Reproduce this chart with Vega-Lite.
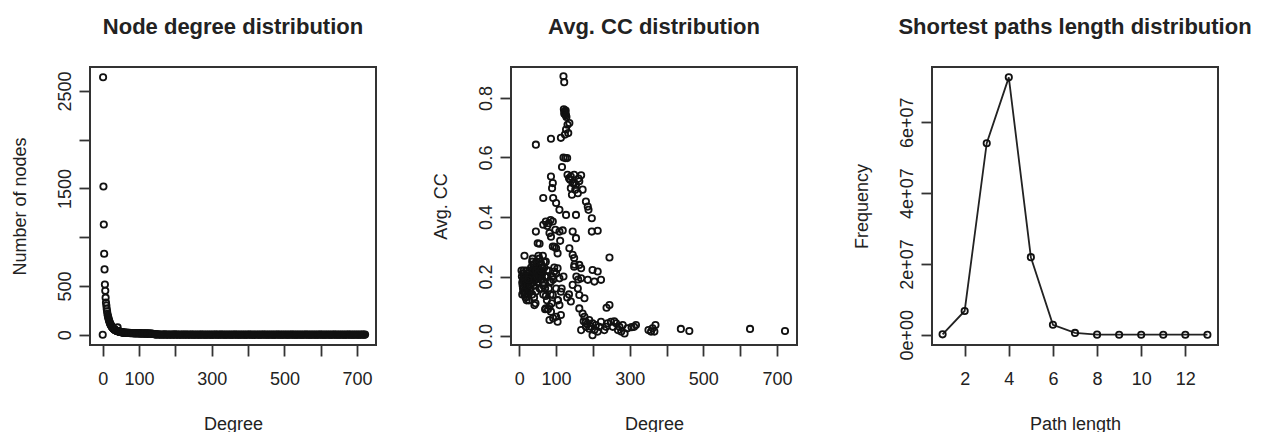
{
  "$schema": "https://vega.github.io/schema/vega-lite/v6.json",
  "background": "white",
  "padding": {"left": 10, "top": 15, "right": 5, "bottom": 5},
  "bounds": "flush",
  "spacing": 135,
  "config": {
    "view": {"stroke": "#333", "strokeWidth": 2},
    "font": "Liberation Sans",
    "axis": {"grid": false, "domain": false, "tickColor": "#333", "tickSize": 11, "tickWidth": 1.8, "labelFont": "Liberation Sans", "labelFontSize": 18, "labelColor": "#222", "titleFont": "Liberation Sans", "titleFontSize": 18, "titleFontWeight": "normal", "titleColor": "#222", "labelOverlap": false, "labelFlush": false},
    "axisLeft": {"labelAngle": 270, "labelAlign": "center", "labelBaseline": "bottom", "labelPadding": 5, "titlePadding": 27},
    "axisBottom": {"labelPadding": 14, "titlePadding": 27, "labelBaseline": "top"},
    "title": {"fontSize": 22, "font": "Liberation Sans", "fontWeight": "bold", "color": "#222", "anchor": "middle", "offset": 28, "baseline": "alphabetic", "frame": "group"}
  },
  "datasets": {
    "deg": [
      {"d":0,"n":0},{"d":1,"n":2640},{"d":2,"n":1520},{"d":3,"n":1130},{"d":4,"n":830},{"d":5,"n":670},{"d":6,"n":515},{"d":7,"n":450},{"d":8,"n":380},{"d":9,"n":330},
      {"d":10,"n":300},{"d":11,"n":265},{"d":12,"n":240},{"d":13,"n":215},{"d":14,"n":195},{"d":15,"n":180},{"d":16,"n":165},{"d":17,"n":150},{"d":18,"n":140},{"d":19,"n":128},
      {"d":20,"n":118},{"d":21,"n":110},{"d":22,"n":102},{"d":23,"n":95},{"d":24,"n":88},{"d":25,"n":82},{"d":26,"n":77},{"d":27,"n":72},{"d":28,"n":68},{"d":29,"n":64},
      {"d":30,"n":60},{"d":31,"n":56},{"d":32,"n":53},{"d":33,"n":50},{"d":34,"n":48},{"d":35,"n":46},{"d":36,"n":44},{"d":37,"n":42},{"d":38,"n":40},{"d":39,"n":38},
      {"d":40,"n":37},{"d":41,"n":75},{"d":42,"n":35},{"d":43,"n":34},{"d":44,"n":33},{"d":45,"n":32},{"d":46,"n":31},{"d":47,"n":30},{"d":48,"n":29},{"d":49,"n":28},
      {"d":50,"n":27},{"d":51,"n":26},{"d":52,"n":25},{"d":53,"n":25},{"d":54,"n":24},{"d":55,"n":23},{"d":56,"n":22},{"d":57,"n":22},{"d":58,"n":21},{"d":59,"n":20},{"d":60,"n":20},
      {"d":62,"n":22},{"d":64,"n":19},{"d":66,"n":21},{"d":68,"n":18},{"d":70,"n":20},{"d":72,"n":17},{"d":74,"n":19},{"d":76,"n":16},{"d":78,"n":18},{"d":80,"n":15},
      {"d":82,"n":17},{"d":84,"n":14},{"d":86,"n":18},{"d":88,"n":13},{"d":90,"n":16},{"d":92,"n":12},{"d":94,"n":17},{"d":96,"n":13},{"d":98,"n":15},{"d":100,"n":12},
      {"d":102,"n":16},{"d":104,"n":11},{"d":106,"n":14},{"d":108,"n":12},{"d":110,"n":15},{"d":112,"n":10},{"d":114,"n":14},{"d":116,"n":11},{"d":118,"n":13},{"d":120,"n":10},
      {"d":122,"n":14},{"d":124,"n":9},{"d":126,"n":13},{"d":128,"n":10},{"d":130,"n":12},{"d":132,"n":9},{"d":134,"n":11},{"d":136,"n":8},{"d":138,"n":10},{"d":140,"n":7},
      {"d":142,"n":5},{"d":144,"n":4},{"d":146,"n":3},{"d":148,"n":4},{"d":150,"n":2},
      {"d":153,"n":3},{"d":156,"n":1},{"d":159,"n":2},{"d":162,"n":0},{"d":165,"n":2},{"d":168,"n":1},{"d":171,"n":3},{"d":174,"n":0},{"d":177,"n":1},{"d":180,"n":2},
      {"d":183,"n":0},{"d":186,"n":1},{"d":189,"n":2},{"d":192,"n":0},{"d":195,"n":1},{"d":198,"n":3},{"d":201,"n":0},{"d":204,"n":1},{"d":207,"n":2},{"d":210,"n":0},
      {"d":213,"n":1},{"d":216,"n":0},{"d":219,"n":2},{"d":222,"n":1},{"d":225,"n":0},{"d":228,"n":1},{"d":231,"n":2},{"d":234,"n":0},{"d":237,"n":1},{"d":240,"n":0},
      {"d":243,"n":2},{"d":246,"n":1},{"d":249,"n":0},{"d":252,"n":1},{"d":255,"n":0},{"d":258,"n":2},{"d":261,"n":0},{"d":264,"n":1},{"d":267,"n":0},{"d":270,"n":1},
      {"d":273,"n":2},{"d":276,"n":0},{"d":279,"n":1},{"d":282,"n":0},{"d":285,"n":1},{"d":288,"n":0},{"d":291,"n":2},{"d":294,"n":0},{"d":297,"n":1},{"d":300,"n":0},
      {"d":303,"n":1},{"d":306,"n":0},{"d":309,"n":2},{"d":312,"n":1},{"d":315,"n":0},{"d":318,"n":1},{"d":321,"n":0},{"d":324,"n":1},{"d":327,"n":2},{"d":330,"n":0},
      {"d":333,"n":1},{"d":336,"n":0},{"d":339,"n":1},{"d":342,"n":0},{"d":345,"n":2},{"d":348,"n":0},{"d":351,"n":1},{"d":354,"n":0},{"d":357,"n":1},{"d":360,"n":0},
      {"d":363,"n":2},{"d":366,"n":1},{"d":369,"n":0},{"d":372,"n":1},{"d":375,"n":0},{"d":378,"n":1},{"d":381,"n":0},{"d":384,"n":2},{"d":387,"n":0},{"d":390,"n":1},
      {"d":393,"n":0},{"d":396,"n":1},{"d":399,"n":0},{"d":402,"n":2},{"d":405,"n":1},{"d":408,"n":0},{"d":411,"n":1},{"d":414,"n":0},{"d":417,"n":1},{"d":420,"n":0},
      {"d":423,"n":2},{"d":426,"n":0},{"d":429,"n":1},{"d":432,"n":0},{"d":435,"n":1},{"d":438,"n":0},{"d":441,"n":2},{"d":444,"n":1},{"d":447,"n":0},{"d":450,"n":1},
      {"d":453,"n":0},{"d":456,"n":1},{"d":459,"n":0},{"d":462,"n":2},{"d":465,"n":0},{"d":468,"n":1},{"d":471,"n":0},{"d":474,"n":1},{"d":477,"n":0},{"d":480,"n":2},
      {"d":483,"n":1},{"d":486,"n":0},{"d":489,"n":1},{"d":492,"n":0},{"d":495,"n":1},{"d":498,"n":0},{"d":501,"n":2},{"d":504,"n":0},{"d":507,"n":1},{"d":510,"n":0},
      {"d":513,"n":1},{"d":516,"n":0},{"d":519,"n":2},{"d":522,"n":1},{"d":525,"n":0},{"d":528,"n":1},{"d":531,"n":0},{"d":534,"n":1},{"d":537,"n":0},{"d":540,"n":2},
      {"d":543,"n":0},{"d":546,"n":1},{"d":549,"n":0},{"d":552,"n":1},{"d":555,"n":0},{"d":558,"n":2},{"d":561,"n":1},{"d":564,"n":0},{"d":567,"n":1},{"d":570,"n":0},
      {"d":573,"n":1},{"d":576,"n":0},{"d":579,"n":2},{"d":582,"n":0},{"d":585,"n":1},{"d":588,"n":0},{"d":591,"n":1},{"d":594,"n":0},{"d":597,"n":2},{"d":600,"n":1},
      {"d":603,"n":0},{"d":606,"n":1},{"d":609,"n":0},{"d":612,"n":1},{"d":615,"n":0},{"d":618,"n":2},{"d":621,"n":0},{"d":624,"n":1},{"d":627,"n":0},{"d":630,"n":1},
      {"d":633,"n":0},{"d":636,"n":2},{"d":639,"n":1},{"d":642,"n":0},{"d":645,"n":1},{"d":648,"n":0},{"d":651,"n":1},{"d":654,"n":0},{"d":657,"n":2},{"d":660,"n":0},
      {"d":663,"n":1},{"d":666,"n":0},{"d":669,"n":1},{"d":672,"n":0},{"d":675,"n":2},{"d":678,"n":1},{"d":681,"n":0},{"d":684,"n":1},{"d":687,"n":0},{"d":690,"n":1},
      {"d":693,"n":0},{"d":696,"n":2},{"d":699,"n":0},{"d":702,"n":1},{"d":705,"n":0},{"d":708,"n":1},{"d":711,"n":0},{"d":714,"n":2},{"d":717,"n":1},{"d":720,"n":0},{"d":722,"n":1}
    ],
    "cc": [
      {"d":120,"cc":0.873},{"d":122,"cc":0.853},{"d":121,"cc":0.762},{"d":123,"cc":0.755},{"d":125,"cc":0.75},{"d":124,"cc":0.745},{"d":126,"cc":0.758},{"d":127,"cc":0.742},{"d":128,"cc":0.736},{"d":122,"cc":0.748},
      {"d":131,"cc":0.71},{"d":136,"cc":0.716},{"d":127,"cc":0.694},{"d":124,"cc":0.677},{"d":113,"cc":0.666},{"d":133,"cc":0.682},{"d":45,"cc":0.643},{"d":86,"cc":0.663},{"d":120,"cc":0.6},{"d":125,"cc":0.598},
      {"d":130,"cc":0.598},{"d":116,"cc":0.568},{"d":131,"cc":0.542},{"d":140,"cc":0.536},{"d":149,"cc":0.542},{"d":168,"cc":0.54},{"d":161,"cc":0.529},{"d":145,"cc":0.514},{"d":154,"cc":0.508},{"d":140,"cc":0.497},
      {"d":152,"cc":0.492},{"d":172,"cc":0.492},{"d":143,"cc":0.475},{"d":159,"cc":0.48},{"d":149,"cc":0.514},{"d":163,"cc":0.52},{"d":138,"cc":0.525},{"d":135,"cc":0.53},
      {"d":86,"cc":0.536},{"d":91,"cc":0.514},{"d":89,"cc":0.497},{"d":92,"cc":0.464},{"d":100,"cc":0.447},{"d":65,"cc":0.464},{"d":109,"cc":0.424},{"d":127,"cc":0.407},{"d":154,"cc":0.407},{"d":181,"cc":0.452},
      {"d":186,"cc":0.435},{"d":188,"cc":0.424},{"d":197,"cc":0.396},{"d":197,"cc":0.351},{"d":213,"cc":0.354},{"d":145,"cc":0.351},{"d":154,"cc":0.329},{"d":72,"cc":0.385},{"d":65,"cc":0.374},{"d":80,"cc":0.379},
      {"d":91,"cc":0.385},{"d":98,"cc":0.357},{"d":109,"cc":0.351},{"d":82,"cc":0.346},{"d":86,"cc":0.334},{"d":45,"cc":0.351},{"d":50,"cc":0.312},{"d":91,"cc":0.301},{"d":100,"cc":0.295},{"d":104,"cc":0.278},
      {"d":136,"cc":0.295},{"d":145,"cc":0.273},{"d":149,"cc":0.262},{"d":14,"cc":0.27},{"d":245,"cc":0.264},{"d":96,"cc":0.3},{"d":76,"cc":0.37},{"d":85,"cc":0.39},{"d":118,"cc":0.355},{"d":111,"cc":0.32},{"d":55,"cc":0.31},
      {"d":163,"cc":0.239},{"d":168,"cc":0.228},{"d":149,"cc":0.233},{"d":199,"cc":0.222},{"d":213,"cc":0.217},{"d":186,"cc":0.189},{"d":204,"cc":0.183},{"d":222,"cc":0.189},{"d":168,"cc":0.194},{"d":145,"cc":0.172},
      {"d":159,"cc":0.16},{"d":163,"cc":0.138},{"d":177,"cc":0.127},{"d":140,"cc":0.116},{"d":245,"cc":0.104},{"d":237,"cc":0.095},{"d":104,"cc":0.228},{"d":95,"cc":0.217},{"d":109,"cc":0.194},{"d":86,"cc":0.183},
      {"d":100,"cc":0.16},{"d":113,"cc":0.149},{"d":91,"cc":0.138},{"d":104,"cc":0.121},{"d":109,"cc":0.104},{"d":113,"cc":0.071},{"d":100,"cc":0.065},{"d":86,"cc":0.082},{"d":82,"cc":0.054},{"d":104,"cc":0.048},
      {"d":72,"cc":0.093},{"d":82,"cc":0.099},{"d":41,"cc":0.104},{"d":155,"cc":0.2},{"d":150,"cc":0.24},{"d":160,"cc":0.19},{"d":120,"cc":0.2},{"d":115,"cc":0.16},{"d":92,"cc":0.19},{"d":130,"cc":0.13},{"d":135,"cc":0.14},
      {"d":6,"cc":0.22},{"d":7,"cc":0.2},{"d":8,"cc":0.18},{"d":9,"cc":0.17},{"d":10,"cc":0.16},{"d":11,"cc":0.21},{"d":12,"cc":0.19},{"d":13,"cc":0.15},{"d":14,"cc":0.14},{"d":15,"cc":0.17},
      {"d":16,"cc":0.2},{"d":17,"cc":0.13},{"d":18,"cc":0.18},{"d":19,"cc":0.16},{"d":20,"cc":0.12},{"d":21,"cc":0.19},{"d":22,"cc":0.15},{"d":23,"cc":0.21},{"d":24,"cc":0.14},{"d":25,"cc":0.17},
      {"d":8,"cc":0.14},{"d":10,"cc":0.19},{"d":12,"cc":0.22},{"d":14,"cc":0.18},{"d":16,"cc":0.15},{"d":18,"cc":0.13},{"d":20,"cc":0.2},{"d":22,"cc":0.17},{"d":26,"cc":0.12},{"d":28,"cc":0.16},
      {"d":30,"cc":0.2},{"d":32,"cc":0.23},{"d":34,"cc":0.21},{"d":36,"cc":0.18},{"d":38,"cc":0.24},{"d":40,"cc":0.2},{"d":42,"cc":0.22},{"d":44,"cc":0.19},{"d":46,"cc":0.25},{"d":48,"cc":0.21},
      {"d":50,"cc":0.23},{"d":52,"cc":0.2},{"d":54,"cc":0.26},{"d":56,"cc":0.22},{"d":58,"cc":0.19},{"d":60,"cc":0.24},{"d":62,"cc":0.21},{"d":64,"cc":0.27},{"d":66,"cc":0.18},{"d":68,"cc":0.23},
      {"d":70,"cc":0.2},{"d":35,"cc":0.25},{"d":40,"cc":0.17},{"d":45,"cc":0.15},{"d":50,"cc":0.18},{"d":55,"cc":0.16},{"d":60,"cc":0.2},{"d":65,"cc":0.17},{"d":72,"cc":0.25},{"d":75,"cc":0.22},
      {"d":36,"cc":0.26},{"d":42,"cc":0.24},{"d":48,"cc":0.18},{"d":52,"cc":0.27},{"d":58,"cc":0.25},{"d":44,"cc":0.11},{"d":40,"cc":0.13},{"d":60,"cc":0.16},{"d":65,"cc":0.14},{"d":70,"cc":0.16},
      {"d":72,"cc":0.135},{"d":75,"cc":0.12},{"d":80,"cc":0.16},{"d":85,"cc":0.14},{"d":90,"cc":0.2},{"d":95,"cc":0.23},{"d":100,"cc":0.21},{"d":105,"cc":0.12},{"d":88,"cc":0.11},{"d":78,"cc":0.09},
      {"d":92,"cc":0.06},{"d":70,"cc":0.09},{"d":30,"cc":0.15},{"d":33,"cc":0.18},{"d":38,"cc":0.2},{"d":43,"cc":0.21},{"d":47,"cc":0.2},{"d":53,"cc":0.22},{"d":57,"cc":0.21},{"d":63,"cc":0.23},
      {"d":67,"cc":0.25},{"d":28,"cc":0.22},{"d":31,"cc":0.17},{"d":27,"cc":0.19},{"d":9,"cc":0.21},{"d":11,"cc":0.15},{"d":13,"cc":0.2},{"d":19,"cc":0.22},{"d":24,"cc":0.19},{"d":35,"cc":0.14},
      {"d":37,"cc":0.22},{"d":41,"cc":0.19},{"d":46,"cc":0.22},{"d":51,"cc":0.21},{"d":55,"cc":0.2},{"d":59,"cc":0.22},{"d":62,"cc":0.19},{"d":77,"cc":0.2},{"d":80,"cc":0.22},{"d":83,"cc":0.18},
      {"d":163,"cc":0.093},{"d":172,"cc":0.076},{"d":177,"cc":0.065},{"d":181,"cc":0.048},{"d":190,"cc":0.054},{"d":199,"cc":0.043},{"d":195,"cc":0.031},{"d":204,"cc":0.02},{"d":208,"cc":0.037},{"d":217,"cc":0.031},
      {"d":199,"cc":0.003},{"d":168,"cc":0.02},{"d":181,"cc":0.031},{"d":231,"cc":0.02},{"d":240,"cc":0.043},{"d":249,"cc":0.048},{"d":263,"cc":0.043},{"d":272,"cc":0.031},{"d":277,"cc":0.015},{"d":286,"cc":0.009},
      {"d":294,"cc":0.026},{"d":317,"cc":0.037},{"d":281,"cc":0.037},{"d":254,"cc":0.031},{"d":222,"cc":0.048},{"d":236,"cc":0.031},{"d":213,"cc":0.015},{"d":185,"cc":0.04},{"d":175,"cc":0.05},{"d":190,"cc":0.025},
      {"d":258,"cc":0.05},{"d":268,"cc":0.02},{"d":305,"cc":0.03},{"d":312,"cc":0.031},{"d":351,"cc":0.02},{"d":358,"cc":0.015},{"d":362,"cc":0.026},{"d":367,"cc":0.015},{"d":370,"cc":0.037},{"d":439,"cc":0.024},
      {"d":462,"cc":0.017},{"d":627,"cc":0.024},{"d":722,"cc":0.017}
    ],
    "paths": [
      {"len":1,"freq":100000},{"len":2,"freq":6700000},{"len":3,"freq":54100000},{"len":4,"freq":72700000},{"len":5,"freq":21900000},{"len":6,"freq":2800000},{"len":7,"freq":500000},
      {"len":8,"freq":20000},{"len":9,"freq":1000},{"len":10,"freq":100},{"len":11,"freq":10},{"len":12,"freq":2},{"len":13,"freq":1}
    ]
  },
  "hconcat": [
    {
      "width": 286, "height": 278,
      "title": "Node degree distribution",
      "data": {"name": "deg"},
      "mark": {"type": "point", "shape": "circle", "filled": false, "color": "#111", "size": 40, "strokeWidth": 1.8, "opacity": 1},
      "encoding": {
        "x": {"field": "d", "type": "quantitative", "scale": {"domain": [-35, 752], "nice": false, "zero": false},
              "axis": {"title": "Degree", "values": [0,100,200,300,400,500,600,700], "format": "d", "labelExpr": "datum.value == 200 || datum.value == 400 || datum.value == 600 ? '' : datum.label"}},
        "y": {"field": "n", "type": "quantitative", "scale": {"domain": [-105.6, 2745.6], "nice": false, "zero": false},
              "axis": {"title": "Number of nodes", "values": [0,500,1000,1500,2000,2500], "format": "d", "labelExpr": "datum.value == 1000 || datum.value == 2000 ? '' : datum.label"}}
      }
    },
    {
      "width": 286, "height": 278,
      "title": "Avg. CC distribution",
      "data": {"name": "cc"},
      "mark": {"type": "point", "shape": "circle", "filled": false, "color": "#111", "size": 40, "strokeWidth": 1.8, "opacity": 1},
      "encoding": {
        "x": {"field": "d", "type": "quantitative", "scale": {"domain": [-22.6, 754.6], "nice": false, "zero": false},
              "axis": {"title": "Degree", "values": [0,100,200,300,400,500,600,700], "format": "d", "labelExpr": "datum.value == 200 || datum.value == 400 || datum.value == 600 ? '' : datum.label"}},
        "y": {"field": "cc", "type": "quantitative", "scale": {"domain": [-0.030, 0.904], "nice": false, "zero": false},
              "axis": {"title": "Avg. CC", "values": [0,0.2,0.4,0.6,0.8], "format": ".1f"}}
      }
    },
    {
      "width": 286, "height": 278,
      "title": "Shortest paths length distribution",
      "data": {"name": "paths"},
      "encoding": {
        "x": {"field": "len", "type": "quantitative", "scale": {"domain": [0.52, 13.48], "nice": false, "zero": false},
              "axis": {"title": "Path length", "values": [2,4,6,8,10,12], "format": "d"}},
        "y": {"field": "freq", "type": "quantitative", "scale": {"domain": [-2909000, 75630000], "nice": false, "zero": false},
              "axis": {"title": "Frequency", "values": [0,20000000,40000000,60000000], "labelExpr": "datum.value == 0 ? '0e+00' : (datum.value / 10000000) + 'e+07'"}}
      },
      "layer": [
        {"mark": {"type": "line", "color": "#222", "strokeWidth": 1.8}},
        {"mark": {"type": "point", "shape": "circle", "filled": false, "color": "#111", "size": 40, "strokeWidth": 1.8, "opacity": 1}}
      ]
    }
  ]
}
